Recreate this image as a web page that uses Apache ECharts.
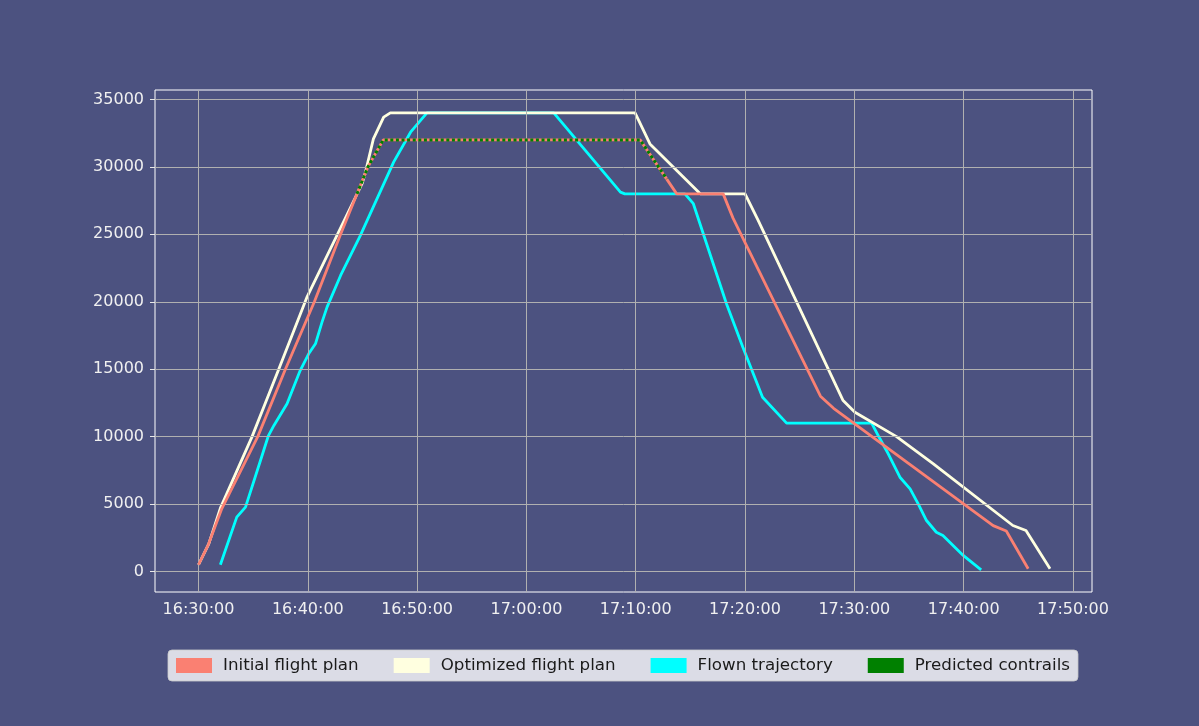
<!DOCTYPE html>
<html>
<head>
<meta charset="utf-8">
<script src="https://cdn.jsdelivr.net/npm/echarts@6/dist/echarts.min.js"></script>
<style>
html,body{margin:0;padding:0;background:#4c5280;}
#chart{width:1199px;height:726px;}
</style>
</head>
<body>
<div id="chart"></div>
<script>
// Time in minutes after 16:00, altitude in feet
const initialT   = [30.0, 30.9, 32.1, 35.42, 37.95, 40.6, 43.0, 45.5, 46.9, 70.4, 73.75, 78.0, 78.9, 86.9, 88.1, 102.7, 103.9, 105.9];
const initialAlt = [500, 2000, 4600, 10000, 15000, 20000, 25000, 30000, 32000, 32000, 28000, 28000, 26200, 13000, 12100, 3400, 3000, 200];

const optimizedT   = [30.0, 30.94, 32.0, 34.9, 37.34, 39.9, 44.96, 45.27, 46.0, 46.94, 47.55, 69.94, 71.3, 75.9, 80.0, 81.2, 88.95, 90.05, 93.86, 97.2, 104.5, 105.7, 107.9];
const optimizedAlt = [500, 2050, 4700, 10000, 15000, 20300, 28750, 29600, 32080, 33690, 34000, 34000, 31700, 28000, 28000, 26030, 12700, 11810, 10000, 8000, 3410, 3040, 200];

const flownT   = [32.0, 33.5, 34.3, 35.67, 36.4, 36.9, 38.1, 39.3, 40.08, 40.7, 41.3, 41.76, 43.0, 44.8, 47.85, 49.4, 50.9, 62.5, 68.6, 69.0, 74.5, 75.27, 78.3, 79.8, 81.6, 83.8, 91.58, 92.34, 93.1, 94.17, 95.1, 95.84, 96.6, 97.5, 98.1, 99.96, 101.6];
const flownAlt = [500, 4030, 4770, 8230, 10080, 10830, 12430, 14900, 16140, 16880, 18490, 19600, 21950, 24900, 30350, 32570, 34000, 34000, 28130, 28000, 28000, 27270, 19850, 16630, 12920, 11000, 11000, 9840, 8730, 6990, 6130, 5020, 3780, 2910, 2670, 1190, 120];

const contrailsT   = [44.5, 45.5, 46.9, 70.4, 72.84];
const contrailsAlt = [28000, 30000, 32000, 32000, 29100];

const xTickValues = [30, 40, 50, 60, 70, 80, 90, 100, 110];
const xTickLabels = ['16:30:00', '16:40:00', '16:50:00', '17:00:00', '17:10:00', '17:20:00', '17:30:00', '17:40:00', '17:50:00'];
const yTickValues = [0, 5000, 10000, 15000, 20000, 25000, 30000, 35000];

const seriesNames = ['Initial flight plan', 'Optimized flight plan', 'Flown trajectory', 'Predicted contrails'];

function zip(a, b) { return a.map((v, i) => [v, b[i]]); }

const chart = echarts.init(document.getElementById('chart'), null, {renderer: 'canvas'});
const font = 'DejaVu Sans';
const gridColor = '#b0b0b0';

const gridLines = xTickValues.map(v => ({xAxis: v})).concat(yTickValues.map(v => ({yAxis: v})));

chart.setOption({
  animation: false,
  backgroundColor: '#4c5280',
  textStyle: {fontFamily: font},
  grid: {left: 155, right: 107, top: 90, bottom: 134, show: true, borderColor: '#ffffff', borderWidth: 1, backgroundColor: 'transparent'},
  xAxis: {
    type: 'value', min: 26.02, max: 111.74,
    axisLine: {show: false},
    splitLine: {show: false},
    axisTick: {show: true, customValues: xTickValues, length: 5, lineStyle: {color: '#e8e8e8'}},
    axisLabel: {customValues: xTickValues, color: '#f0f0f0', fontSize: 16, fontFamily: font, margin: 10,
      formatter: v => { const i = xTickValues.indexOf(v); return i >= 0 ? xTickLabels[i] : ''; }}
  },
  yAxis: {
    type: 'value', min: -1520, max: 35700,
    axisLine: {show: false},
    splitLine: {show: false},
    axisTick: {show: true, customValues: yTickValues, length: 5, lineStyle: {color: '#e8e8e8'}},
    axisLabel: {customValues: yTickValues, color: '#f0f0f0', fontSize: 16, fontFamily: font, margin: 11,
      formatter: v => String(Math.round(v))}
  },
  legend: {
    data: seriesNames,
    left: 168, top: 650,
    padding: [7, 8],
    backgroundColor: 'rgba(255,255,255,0.8)',
    borderColor: 'rgba(204,204,204,0.8)', borderWidth: 1, borderRadius: 4,
    itemWidth: 36, itemHeight: 15, itemGap: 35,
    icon: 'rect',
    textStyle: {color: '#1a1a1a', fontSize: 16.7, fontFamily: font, padding: [0, 0, 0, 6]}
  },
  series: [
    {
      type: 'line', name: 'grid', data: [], z: 1, silent: true,
      markLine: {silent: true, symbol: 'none', label: {show: false},
        lineStyle: {color: gridColor, width: 1, type: 'solid'}, data: gridLines, animation: false}
    },
    {
      type: 'line', name: seriesNames[2], data: zip(flownT, flownAlt), showSymbol: false, z: 3,
      itemStyle: {color: '#00ffff'}, lineStyle: {color: '#00ffff', width: 2.8}
    },
    {
      type: 'line', name: seriesNames[1], data: zip(optimizedT, optimizedAlt), showSymbol: false, z: 4,
      itemStyle: {color: '#ffffe0'}, lineStyle: {color: '#ffffe0', width: 2.8}
    },
    {
      type: 'line', name: seriesNames[0], data: zip(initialT, initialAlt), showSymbol: false, z: 5,
      itemStyle: {color: '#fa8072'}, lineStyle: {color: '#fa8072', width: 2.8}
    },
    {
      type: 'line', name: seriesNames[3], data: zip(contrailsT, contrailsAlt), showSymbol: false, z: 6,
      itemStyle: {color: '#008000'}, lineStyle: {color: '#008000', width: 3, type: [3, 2.6], cap: 'butt'}
    }
  ]
});
</script>
</body>
</html>
